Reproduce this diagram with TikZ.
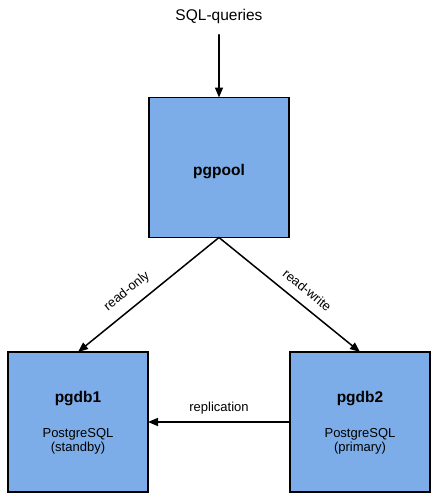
\documentclass[tikz,border=0pt]{standalone}
\usepackage{fontspec}
\setmainfont{Liberation Sans}
\usetikzlibrary{arrows.meta}
\definecolor{boxblue}{RGB}{125,173,232}

\begin{document}
\begin{tikzpicture}[x=1pt, y=-1pt, >={Triangle[length=10pt,width=8pt]}, line cap=round,
	server/.style={draw=black, fill=boxblue, line width=1.7pt, minimum width=140pt,
		minimum height=140pt, inner sep=0pt, outer sep=0pt},
	conn/.style={->, line width=1.5pt},
	title/.style={font=\fontsize{15.5}{18}\selectfont\bfseries, anchor=base},
	sub/.style={font=\fontsize{13}{15}\selectfont, anchor=base},
	lbl/.style={font=\fontsize{13}{15}\selectfont}]
\useasboundingbox (0,0) rectangle (439,499);
%========================
% Top: pooler
%========================
\node[font=\fontsize{15.5}{18}\selectfont, anchor=base] (sql) at (219,20) {SQL-queries};
\node[server] (pgpool) at (219,167.5) {};
\node[title] (pgpooltxt) at (219,175) {pgpool};

%========================
% Bottom: database servers
%========================
\node[server] (pgdb1) at (78,422) {};
\node[title] (pgdb1txt) at (78,402.7) {pgdb1};
\node[sub] (pgdb1sw) at (78,437.3) {PostgreSQL};
\node[sub] (pgdb1role) at (78,451.7) {(standby)};

\node[server] (pgdb2) at (360,422) {};
\node[title] (pgdb2txt) at (360,402.7) {pgdb2};
\node[sub] (pgdb2sw) at (360,437.3) {PostgreSQL};
\node[sub] (pgdb2role) at (360,451.7) {(primary)};

% connections
\draw[conn, shorten <=8pt] (sql.south) -- (pgpool.north);
\draw[conn] (pgpool.south) -- (pgdb1.north)
	node[lbl, pos=0.58, sloped, above=6pt] (ro) {read-only};
\draw[conn] (pgpool.south) -- (pgdb2.north)
	node[lbl, pos=0.56, sloped, above=6pt] (rw) {read-write};
\draw[conn] (pgdb2.west) -- (pgdb1.east)
	node[lbl, midway, above=4pt] (repl) {replication};
\end{tikzpicture}
\end{document}
